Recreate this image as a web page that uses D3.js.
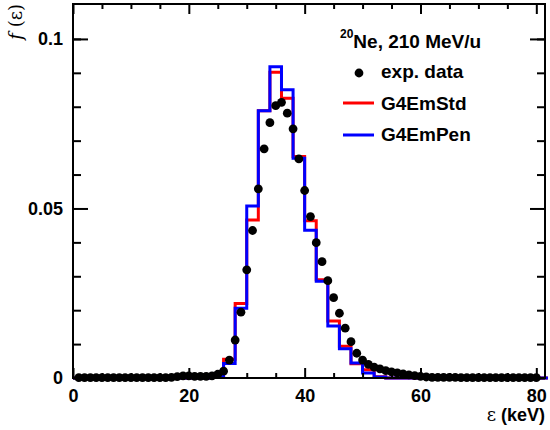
<!DOCTYPE html>
<html>
<head>
<meta charset="utf-8">
<script src="https://cdn.jsdelivr.net/npm/d3@7"></script>
<style>
  body { margin: 0; background: #fff; }
  svg text { font-family: "Liberation Sans", Arial, Helvetica, sans-serif; font-weight: bold; }
</style>
</head>
<body>
<svg id="chart" width="550" height="430"></svg>
<script>
// measured energy loss spectrum (1 keV steps)
expEnergy = [1,2,3,4,5,6,7,8,9,10,11,12,13,14,15,16,17,18,19,20,
  21,22,23,24,25,26,27,28,29,30,31,32,33,34,35,36,37,38,39,40,
  41,42,43,44,45,46,47,48,49,50,51,52,53,54,55,56,57,58,59,60,
  61,62,63,64,65,66,67,68,69,70,71,72,73,74,75,76,77,78,79,80];
expValue = [0.0001,0.0001,0.0001,0.0001,0.0001,0.0001,0.0001,0.0001,0.0001,0.0001,
  0.0001,0.0001,0.0001,0.0001,0.0001,0.0001,0.0002,0.0004,0.0006,0.0006,
  0.0005,0.0005,0.0005,0.0006,0.0011,0.0020,0.0053,0.0112,0.0194,0.0319,
  0.0435,0.0558,0.0676,0.0753,0.0803,0.0813,0.0781,0.0735,0.0646,0.0553,
  0.0476,0.0399,0.0343,0.0287,0.0237,0.0191,0.0147,0.0107,0.0073,0.0053,
  0.0040,0.0032,0.0027,0.0022,0.0018,0.0015,0.0012,0.0009,0.0007,0.0005,
  0.0003,0.0002,0.0002,0.0002,0.0002,0.0002,0.0001,0.0001,0.0001,0.0001,
  0.0001,0.0001,0.0001,0.0001,0.0001,0.0001,0.0001,0.0001,0.0001,0.0001];

// simulated histograms, 2 keV bins (lower edges), flat zero outside
binEdges = [0,24,26,28,30,32,34,36,38,40,42,44,46,48,50,52,54,82];
stdValue = [0,0.0004,0.0055,0.0220,0.0466,0.0788,0.0902,0.0825,0.0653,0.0464,0.0290,0.0168,0.0094,0.0042,0.0024,0.0004,0];
penValue = [0,0.0005,0.0043,0.0206,0.0507,0.0788,0.0918,0.0850,0.0648,0.0436,0.0285,0.0153,0.0086,0.0044,0.0015,0.0003,0];

xMajor = [0,20,40,60,80];
xMinor = [5,10,15,25,30,35,45,50,55,65,70,75];
yMajor = [0,0.05,0.1];
yMinor = [0.01,0.02,0.03,0.04,0.06,0.07,0.08,0.09,0.1];
yTickLabels = ["0","0.05","0.1"];

W=550; H=430;
L=73; R=545; T=4; B=378;

svg = d3.select("#chart");

x = d3.scaleLinear().domain([0,81.5]).range([L,R]);
y = d3.scaleLinear().domain([0,0.1103]).range([B,T]);

// histograms
function histPath(vals){
    var pts = binEdges.map(function(e,i){ return [e, i<vals.length ? vals[i] : 0]; });
    return d3.line().x(function(d){return x(d[0])}).y(function(d){return y(d[1])}).curve(d3.curveStepAfter)(pts);
}
svg.append("path").attr("d",histPath(stdValue))
    .attr("fill","none").attr("stroke","#ff0000").attr("stroke-width",3);
svg.append("path").attr("d",histPath(penValue))
    .attr("fill","none").attr("stroke","#0000ff").attr("stroke-width",3);

// exp data points
svg.selectAll("circle.exp")
    .data(expEnergy)
    .enter()
    .append("circle")
    .attr("class","exp")
    .attr("cx",function(d){return x(d)})
    .attr("cy",function(d,i){return y(expValue[i])})
    .attr("r",4.4)
    .attr("fill","#000");

// frame
svg.append("rect").attr("x",L).attr("y",T).attr("width",R-L).attr("height",B-T)
    .attr("fill","none").attr("stroke","#000").attr("stroke-width",2);

function styleAxis(g){
    g.select(".domain").remove();
    g.selectAll("line").attr("stroke","#000").attr("stroke-width",2);
    g.selectAll("text").attr("fill","#000").style("font-size","18px");
}

// bottom
svg.append("g").attr("transform","translate(0,"+B+")")
    .call(d3.axisBottom(x).tickValues(xMajor).tickSize(-10).tickPadding(11).tickFormat(d3.format("d")))
    .call(styleAxis);
svg.append("g").attr("transform","translate(0,"+B+")")
    .call(d3.axisBottom(x).tickValues(xMinor).tickSize(-5).tickFormat(""))
    .call(styleAxis);
// top
svg.append("g").attr("transform","translate(0,"+T+")")
    .call(d3.axisTop(x).tickValues(xMajor).tickSize(-10).tickFormat(""))
    .call(styleAxis);
svg.append("g").attr("transform","translate(0,"+T+")")
    .call(d3.axisTop(x).tickValues(xMinor).tickSize(-5).tickFormat(""))
    .call(styleAxis);
// left
svg.append("g").attr("transform","translate("+L+",0)")
    .call(d3.axisLeft(y).tickValues(yMajor).tickSize(-15).tickPadding(10)
        .tickFormat(function(d,i){return yTickLabels[i]}))
    .call(styleAxis);
svg.append("g").attr("transform","translate("+L+",0)")
    .call(d3.axisLeft(y).tickValues(yMinor).tickSize(-8).tickFormat(""))
    .call(styleAxis);
// right
svg.append("g").attr("transform","translate("+R+",0)")
    .call(d3.axisRight(y).tickValues(yMajor).tickSize(-15).tickFormat(""))
    .call(styleAxis);
svg.append("g").attr("transform","translate("+R+",0)")
    .call(d3.axisRight(y).tickValues(yMinor).tickSize(-8).tickFormat(""))
    .call(styleAxis);

// axis titles
xt = svg.append("text").attr("x",R).attr("y",421).attr("text-anchor","end").style("font-size","18px");
xt.append("tspan").style("font-family","'DejaVu Serif', serif").style("font-weight","normal").text("ε");
xt.append("tspan").text(" (keV)");

yt = svg.append("text").attr("transform","translate(22,4) rotate(-90)").attr("text-anchor","end").style("font-size","18px");
yt.append("tspan").style("font-family","'DejaVu Serif', serif").style("font-style","italic").style("font-weight","normal").text("f");
yt.append("tspan").style("font-family","'DejaVu Serif', serif").style("font-weight","normal").text(" (ε)");

// legend
lg = svg.append("g");
t0 = lg.append("text").attr("x",340).attr("y",48).style("font-size","19px");
t0.append("tspan").attr("dy",-10).style("font-size","12px").text("20");
t0.append("tspan").attr("dy",10).text("Ne, 210 MeV/u");

lg.append("circle").attr("cx",359).attr("cy",73).attr("r",4.4).attr("fill","#000");
lg.append("text").attr("x",381).attr("y",78).style("font-size","19px").text("exp. data");

lg.append("line").attr("x1",343).attr("x2",374).attr("y1",103).attr("y2",103)
    .attr("stroke","#ff0000").attr("stroke-width",3);
lg.append("text").attr("x",381).attr("y",110).style("font-size","19px").text("G4EmStd");

lg.append("line").attr("x1",343).attr("x2",374).attr("y1",135).attr("y2",135)
    .attr("stroke","#0000ff").attr("stroke-width",3);
lg.append("text").attr("x",381).attr("y",141).style("font-size","19px").text("G4EmPen");
</script>
</body>
</html>
